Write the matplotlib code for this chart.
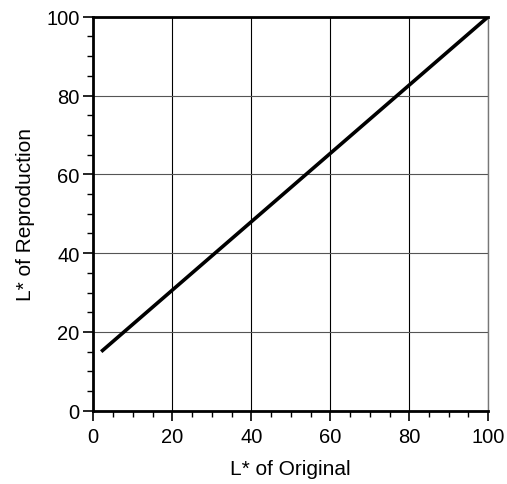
import matplotlib
matplotlib.use('Agg')
import matplotlib.pyplot as plt
from matplotlib.ticker import MultipleLocator

plt.rcParams['font.family'] = ['Liberation Sans', 'DejaVu Sans']

# data
x_vals = [2, 100]
y_vals = [15, 100]

fig = plt.figure(figsize=(5.07, 4.85), dpi=100)
ax = fig.add_axes([0.184, 0.151, 0.779, 0.8125])

ax.plot(x_vals, y_vals, color='black', lw=2.6, solid_capstyle='butt', zorder=3)

ax.set_xlim(0, 100)
ax.set_ylim(0, 100)
ax.xaxis.set_major_locator(MultipleLocator(20))
ax.yaxis.set_major_locator(MultipleLocator(20))
ax.xaxis.set_minor_locator(MultipleLocator(5))
ax.yaxis.set_minor_locator(MultipleLocator(5))

ax.grid(True, axis='x', which='major', color='black', lw=0.8)
ax.grid(True, axis='y', which='major', color='#555555', lw=0.8)

ax.tick_params(which='major', direction='out', length=7, width=1.2, labelsize=14.5, pad=3)
ax.tick_params(axis='x', which='major', pad=5)
ax.tick_params(which='minor', direction='out', length=4, width=1.0)
ax.tick_params(top=False, right=False)

for s in ['left', 'bottom', 'top']:
    ax.spines[s].set_linewidth(2)
ax.spines['right'].set_linewidth(1)
ax.spines['right'].set_color('#777777')

ax.set_xlabel('L* of Original', fontsize=15, labelpad=9)
ax.set_ylabel('L* of Reproduction', fontsize=15, labelpad=8)

fig.savefig('out.png', dpi=100)
